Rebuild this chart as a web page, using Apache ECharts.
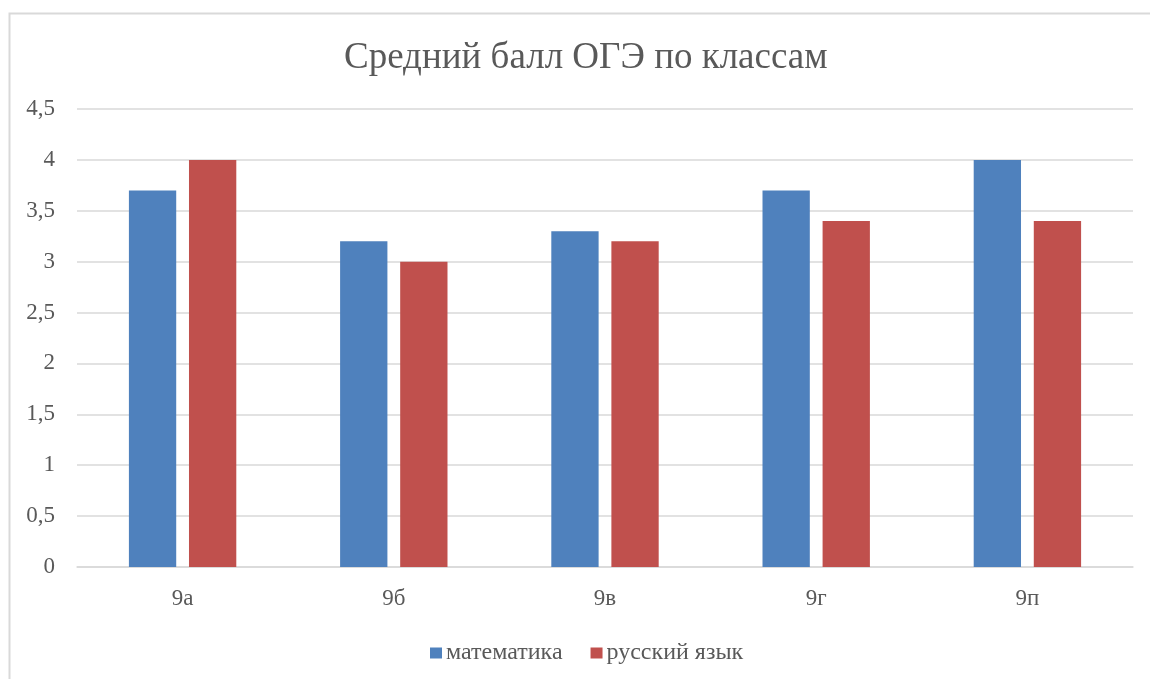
<!DOCTYPE html>
<html>
<head>
<meta charset="utf-8">
<script src="https://cdn.jsdelivr.net/npm/echarts@6/dist/echarts.min.js"></script>
<style>
  html, body { margin: 0; padding: 0; background: #fff; }
  #chart { width: 1150px; height: 679px; }
</style>
</head>
<body>
<div id="chart"></div>
<script>
  // данные
  var classes = ['9а', '9б', '9в', '9г', '9п'];
  var mathScores = [3.7, 3.2, 3.3, 3.7, 4.0];
  var russianScores = [4.0, 3.0, 3.2, 3.4, 3.4];

  var font = '"Liberation Serif", "Times New Roman", serif';
  var textColor = '#595959';

  var myChart = echarts.init(document.getElementById('chart'));
  myChart.setOption({
    animation: false,
    title: {
      text: 'Средний балл ОГЭ по классам',
      left: 339,
      top: 35,
      textStyle: { fontFamily: font, fontSize: 37, fontWeight: 'normal', color: textColor }
    },
    graphic: [{
      type: 'rect',
      shape: { x: 9.5, y: 13.5, width: 1300, height: 800 },
      style: { fill: 'none', stroke: '#d9d9d9', lineWidth: 2 },
      silent: true
    }],
    legend: {
      top: 636,
      left: 425,
      itemWidth: 12,
      itemHeight: 11,
      itemGap: 28,
      icon: 'rect',
      textStyle: { fontFamily: font, fontSize: 24, color: textColor, padding: [0, 0, 0, -1] },
      data: ['математика', 'русский язык']
    },
    grid: {
      left: 77,
      right: 17,
      top: 109,
      bottom: 112,
      containLabel: false
    },
    xAxis: {
      type: 'category',
      data: classes,
      axisLine: { lineStyle: { color: '#d9d9d9', width: 1.5 } },
      axisTick: { show: false },
      axisLabel: { fontFamily: font, fontSize: 23, color: textColor, margin: 20 }
    },
    yAxis: {
      type: 'value',
      min: 0,
      max: 4.5,
      interval: 0.5,
      axisLine: { show: false },
      axisTick: { show: false },
      splitLine: { lineStyle: { color: '#d9d9d9', width: 1.5 } },
      axisLabel: {
        fontFamily: font, fontSize: 23, color: textColor, margin: 22,
        formatter: function (v) { return String(v).replace('.', ','); }
      }
    },
    series: [{
      name: 'математика',
      type: 'bar',
      data: mathScores,
      barWidth: '22.4%',
      barGap: '27%',
      itemStyle: { color: '#4F81BD' }
    }, {
      name: 'русский язык',
      type: 'bar',
      data: russianScores,
      barWidth: '22.4%',
      barGap: '27%',
      itemStyle: { color: '#C0504D' }
    }]
  });
  window.addEventListener('resize', function () { myChart.resize(); });
</script>
</body>
</html>
